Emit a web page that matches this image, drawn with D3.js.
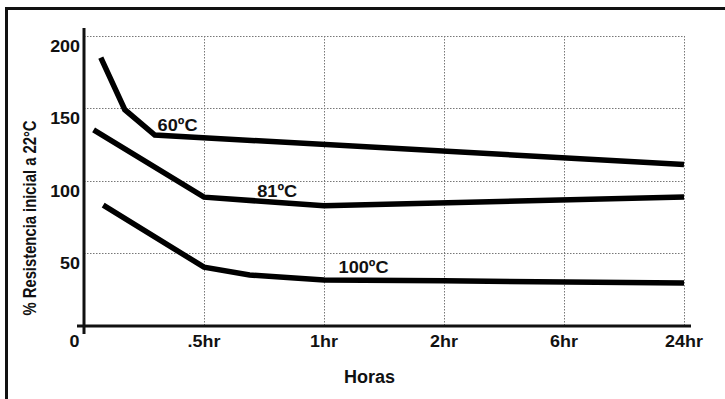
<!DOCTYPE html>
<html>
<head>
<meta charset="utf-8">
<script src="https://cdn.jsdelivr.net/npm/d3@7"></script>
<style>
  body { margin: 0; background: #fff; }
  svg { display: block; }
  text { font-family: "Liberation Sans", Arial, sans-serif; font-weight: bold; fill: #111; }
  .grid line { stroke: #777; stroke-width: 1; stroke-dasharray: 1.5 1.5; }
  .curve { fill: none; stroke: #000; stroke-width: 5.5; stroke-linejoin: miter; }
</style>
</head>
<body>
<div id="chart"></div>
<script>
// x positions are in "tick slot" units: 0 = 0, 1 = .5hr, 2 = 1hr, ...
var x_tick_labels = ["0", ".5hr", "1hr", "2hr", "6hr", "24hr"];
var y_tick_values = [50, 100, 150, 200];

var curve_60 = [[0.14, 185], [0.34, 149], [0.59, 131.5], [5, 111]];
var curve_81 = [[0.08, 135], [1.0, 88.5], [2.0, 82.5], [5, 88.5]];
var curve_100 = [[0.16, 83], [1.0, 40], [1.38, 34.6], [2.0, 31.2], [3.0, 30.6], [5, 29]];

var curve_labels = [
    {text: "60ºC", x: 0.78, y: 134},
    {text: "81ºC", x: 1.61, y: 88.6},
    {text: "100ºC", x: 2.33, y: 35.8}
];

var width = 725, height = 399;

var svg = d3.select("#chart").append("svg")
    .attr("width", width)
    .attr("height", height);

var x = d3.scaleLinear().domain([0, 5]).range([84, 684]);
var y = d3.scaleLinear().domain([0, 200]).range([325, 36]);

// text helper: the original lettering is a bit wider than Arial
function label(sel, size, sx) {
    return sel.style("font-size", size + "px")
        .attr("transform", function(d) {
            return "translate(" + d3.select(this).attr("data-x") + "," + d3.select(this).attr("data-y") + ") scale(" + sx + ",1)";
        });
}

// frame (top and left edges)
svg.append("path")
    .attr("d", "M6.5,400 V8.5 H725")
    .attr("fill", "none")
    .attr("stroke", "#111")
    .attr("stroke-width", 3);

// dotted grid
var grid = svg.append("g").attr("class", "grid");
grid.selectAll(".hgrid")
    .data(y_tick_values)
    .enter().append("line")
    .attr("x1", x(0)).attr("x2", x(5))
    .attr("y1", d => Math.round(y(d)) + 0.5)
    .attr("y2", d => Math.round(y(d)) + 0.5);
grid.selectAll(".vgrid")
    .data(d3.range(1, 6))
    .enter().append("line")
    .attr("x1", d => Math.round(x(d)) + 0.5)
    .attr("x2", d => Math.round(x(d)) + 0.5)
    .attr("y1", y(200)).attr("y2", y(0));

// axes lines
svg.append("line")
    .attr("x1", 77).attr("x2", 691)
    .attr("y1", 326).attr("y2", 326)
    .attr("stroke", "#111").attr("stroke-width", 3);
svg.append("line")
    .attr("x1", 84).attr("x2", 84)
    .attr("y1", 28).attr("y2", 334)
    .attr("stroke", "#111").attr("stroke-width", 3);

// x tick labels
svg.selectAll(".xlab")
    .data(x_tick_labels)
    .enter().append("text")
    .attr("data-x", (d, i) => i === 0 ? x(i) - 9.5 : x(i))
    .attr("data-y", 347)
    .attr("text-anchor", "middle")
    .text(d => d)
    .call(label, 16, 1.12);

// y tick labels (sit a bit below their grid lines)
svg.selectAll(".ylab")
    .data(y_tick_values)
    .enter().append("text")
    .attr("data-x", 80)
    .attr("data-y", d => y(d) + 16)
    .attr("text-anchor", "end")
    .text(d => d)
    .call(label, 16, 1.12);

// axis titles
svg.append("text")
    .attr("transform", "translate(36,218) scale(1.25,1) rotate(-90)")
    .attr("text-anchor", "middle")
    .style("font-size", "14.8px")
    .text("% Resistencia inicial a 22°C");

svg.append("text")
    .attr("data-x", 369.5)
    .attr("data-y", 383)
    .attr("text-anchor", "middle")
    .text("Horas")
    .call(label, 18, 1.0);

// curves
var line = d3.line()
    .x(d => x(d[0]))
    .y(d => y(d[1]));

svg.selectAll(".curve")
    .data([curve_60, curve_81, curve_100])
    .enter().append("path")
    .attr("class", "curve")
    .attr("d", line);

svg.selectAll(".clab")
    .data(curve_labels)
    .enter().append("text")
    .attr("data-x", d => x(d.x))
    .attr("data-y", d => y(d.y))
    .attr("text-anchor", "middle")
    .text(d => d.text)
    .call(label, 17, 1.07);
</script>
</body>
</html>
